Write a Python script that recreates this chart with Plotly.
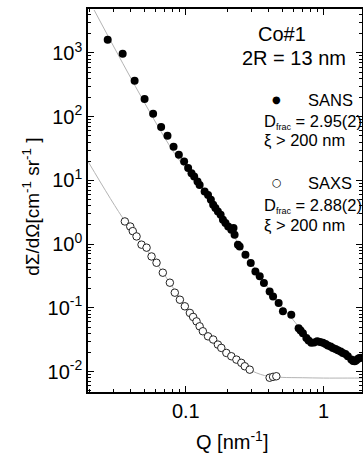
import plotly.graph_objects as go

# ---- data ----
sans_q = [0.0271, 0.0348, 0.0425, 0.0502, 0.0579, 0.0662, 0.0736, 0.0815, 0.089, 0.0972,
          0.104, 0.110, 0.115, 0.1216, 0.126, 0.137, 0.145, 0.152, 0.158, 0.164,
          0.171, 0.179, 0.186, 0.194, 0.203, 0.214, 0.222, 0.226, 0.239, 0.246,
          0.271, 0.296, 0.320, 0.344, 0.369, 0.406, 0.430, 0.472, 0.507, 0.583,
          0.659, 0.681, 0.708, 0.750, 0.778, 0.815, 0.853, 0.900, 0.943, 0.989,
          1.034, 1.074, 1.124, 1.168, 1.22, 1.27, 1.33, 1.38, 1.44, 1.50,
          1.59, 1.64, 1.68, 1.72, 1.77, 1.82, 1.88]
sans_i = [1615, 975, 368, 190, 111, 69, 50, 33.6, 25.2, 19.8,
          15.6, 13.0, 11.5, 9.6, 8.5, 6.7, 5.9, 4.96, 4.15, 3.68,
          3.26, 2.89, 2.41, 2.14, 1.89, 1.68, 1.79, 1.40, 0.98, 0.92,
          0.68, 0.506, 0.373, 0.312, 0.245, 0.181, 0.151, 0.119, 0.088, 0.078,
          0.048, 0.044, 0.040, 0.0337, 0.0306, 0.0282, 0.0285, 0.0299, 0.029, 0.0282,
          0.027, 0.0256, 0.0247, 0.0235, 0.0225, 0.0216, 0.0206, 0.0196, 0.0188, 0.0174,
          0.0154, 0.0146, 0.0145, 0.0149, 0.0158, 0.0163, 0.0164]

saxs_q = [0.0361, 0.0395, 0.0412, 0.0439, 0.0477, 0.0519, 0.0564, 0.0613, 0.0681, 0.0766,
          0.0832, 0.0906, 0.0984, 0.107, 0.113, 0.1196, 0.126, 0.133, 0.145, 0.158,
          0.171, 0.181, 0.197, 0.214, 0.233, 0.253, 0.268, 0.291, 0.406, 0.430, 0.454]
saxs_i = [2.27, 1.89, 1.60, 1.32, 0.98, 0.88, 0.64, 0.51, 0.356, 0.248,
          0.173, 0.134, 0.1057, 0.0832, 0.072, 0.0613, 0.0513, 0.0429, 0.0357, 0.0318,
          0.0265, 0.0235, 0.0196, 0.0174, 0.0154, 0.0137, 0.0121, 0.0107, 0.0080, 0.00826, 0.00844]

fit_sans_q = [0.0216, 0.0857, 0.12, 0.2, 0.3, 0.45, 0.6, 0.8, 1.0, 1.4, 1.9]
fit_sans_i = [4720, 23.7, 10.0, 1.9, 0.50, 0.14, 0.065, 0.032, 0.027, 0.019, 0.0155]

fit_saxs_q = [0.0196, 0.0361, 0.05, 0.07, 0.1, 0.15, 0.2, 0.25, 0.3, 0.35, 0.4, 0.5, 0.7, 1.0, 1.5, 1.95]
fit_saxs_i = [19.5, 2.3, 0.92, 0.33, 0.105, 0.034, 0.0185, 0.0128, 0.0103, 0.0090, 0.0084,
              0.0081, 0.0080, 0.0079, 0.0079, 0.0079]

y_tick_vals = [1e-2, 1e-1, 1e0, 1e1, 1e2, 1e3]
y_tick_text = ["10<sup>-2</sup>", "10<sup>-1</sup>", "10<sup>0</sup>",
               "10<sup>1</sup>", "10<sup>2</sup>", "10<sup>3</sup>"]
x_tick_vals = [0.1, 1]
x_tick_text = ["0.1", "1"]

FONT = "Arial, Liberation Sans, sans-serif"
NARROW = "Liberation Sans Narrow, Arial Narrow, Arial, sans-serif"

fig = go.Figure()
fig.add_trace(go.Scatter(x=fit_sans_q, y=fit_sans_i, mode="lines",
                         line=dict(color="#b4b4b4", width=1, shape="spline"), showlegend=False))
fig.add_trace(go.Scatter(x=fit_saxs_q, y=fit_saxs_i, mode="lines",
                         line=dict(color="#b4b4b4", width=1, shape="spline"), showlegend=False))
fig.add_trace(go.Scatter(x=saxs_q, y=saxs_i, mode="markers",
                         marker=dict(symbol="circle", size=7.5, color="white",
                                     line=dict(color="#222", width=1)), showlegend=False))
fig.add_trace(go.Scatter(x=sans_q, y=sans_i, mode="markers",
                         marker=dict(symbol="circle", size=8, color="black",
                                     line=dict(width=0)), showlegend=False))

# plot area in pixels
X0, X1, Y0, Y1 = 88, 362.5, 9, 392.5
W, H = 363, 459


def px(x):
    return (x - X0) / (X1 - X0)


def py(y):
    return (Y1 - y) / (Y1 - Y0)


def minor_vals(lo, hi):
    out = []
    d = lo
    while d < hi:
        for m in range(2, 10):
            out.append(m * d)
        d *= 10
    return out


axis_common = dict(type="log", showline=True, linecolor="black", linewidth=1.5,
                   mirror="allticks", ticks="inside", tickcolor="black", tickwidth=1.2,
                   showgrid=False, zeroline=False,
                   tickfont=dict(family=FONT, size=20, color="black"))

fig.update_xaxes(**axis_common, range=[-1.710, 0.279], tickmode="array",
                 tickvals=x_tick_vals, ticktext=x_tick_text, ticklen=6,
                 minor=dict(tickmode="array", tickvals=minor_vals(0.01, 10), ticks="inside",
                            ticklen=3, tickcolor="black", tickwidth=1))
fig.update_yaxes(**axis_common, range=[-2.321, 3.690], tickmode="array",
                 tickvals=y_tick_vals, ticktext=y_tick_text, ticklen=6,
                 minor=dict(tickmode="array", tickvals=minor_vals(0.001, 10000), ticks="inside",
                            ticklen=3, tickcolor="black", tickwidth=1))
fig.update_xaxes(linecolor="black")

ann = []


def add(text, x, y, size, anchor="center", family=FONT, angle=0):
    ann.append(dict(text=text, x=px(x), y=py(y), xref="paper", yref="paper",
                    xanchor=anchor, yanchor="middle", showarrow=False, textangle=angle,
                    font=dict(family=family, size=size, color="black")))


SUB = "<sub><span style='font-size:9px'>frac</span></sub>"
add("Co#1", 282, 34, 20)
add("2R = 13 nm", 294, 58, 20)
add("●", 277, 100, 10, family="DejaVu Sans")
add("SANS", 306, 100, 16.5, anchor="left", family=NARROW)
add("D" + SUB + " = 2.95(2)", 262, 122, 16.5, anchor="left", family=NARROW)
add("ξ > 200 nm", 262, 141, 16.5, anchor="left", family=NARROW)
add("○", 277, 183, 11, family="DejaVu Sans")
add("SAXS", 306, 183, 16.5, anchor="left", family=NARROW)
add("D" + SUB + " = 2.88(2)", 262, 206, 16.5, anchor="left", family=NARROW)
add("ξ > 200 nm", 262, 226, 16.5, anchor="left", family=NARROW)
add("dΣ/dΩ[cm<sup>-1</sup> sr<sup>-1</sup> ]", 31, 207, 19, angle=-90)
add("Q [nm<sup>-1</sup>]", 232, 441, 20)

fig.update_layout(width=W, height=H, autosize=False,
                  margin=dict(l=X0, r=W - X1, t=Y0, b=H - Y1, pad=0),
                  paper_bgcolor="white", plot_bgcolor="white",
                  annotations=ann, showlegend=False)

fig.write_html("out.html")
